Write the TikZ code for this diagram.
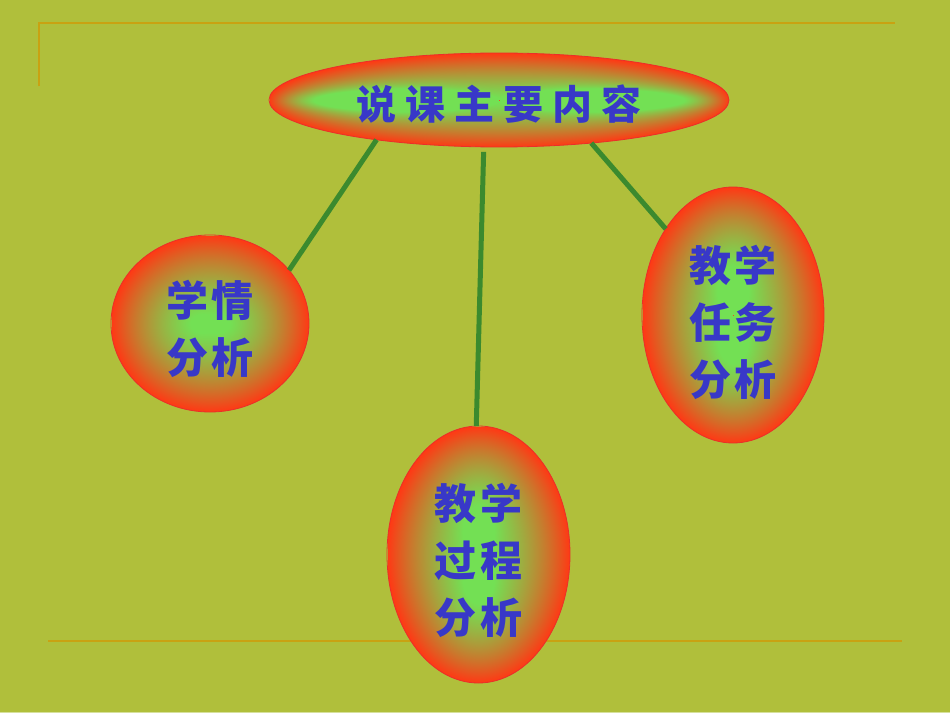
\documentclass[tikz,border=0pt]{standalone}
\usepackage{fontspec}
\newfontfamily\cjk{Noto Sans CJK SC}
\usetikzlibrary{shapes.geometric}
\definecolor{bg}{HTML}{B0BF3B}
\definecolor{framecol}{HTML}{C9A212}
\definecolor{conn}{HTML}{3B8A2E}
\definecolor{edgecol}{HTML}{E8302A}
\definecolor{txt}{HTML}{3838C8}
\definecolor{strip}{HTML}{D6E09C}
% #1 name, #2 A, #3 B, #4 k=(A/B)^2, #5 A/R
\newcommand\mkshade[5]{%
\pgfdeclarefunctionalshading{#1}{\pgfpointorigin}{\pgfpoint{2*#2bp}{2*#3bp}}{}{%
 #3 sub #3 div dup mul exch #2 sub #2 div dup mul
 2 copy add sqrt dup 1 exch sub mul 3 1 roll
 exch #4 mul add sqrt dup 0.001 lt {pop 0.001} if div #5 mul
 1 exch sub dup 0 lt {pop 0} if dup 1 gt {pop 1} if
 dup 0.4 mul 0.6 add mul
 dup 0.55 mul 0.45 add exch dup -0.66 mul 0.88 add exch -0.25 mul 0.33 add
}}
\mkshade{shTop}{230}{47}{23.95}{5.11}
\mkshade{shLeft}{99}{88.5}{1.251}{1.2375}
\mkshade{shMid}{91.5}{128.5}{0.507}{1.144}
\mkshade{shRight}{91}{128}{0.505}{1.1375}
\tikzset{
  ovalnode/.style={ellipse, draw=edgecol, line width=0.8bp, inner sep=0pt, outer sep=0pt},
  lab/.style={text=txt, font=\cjk\bfseries\fontsize{42bp}{57bp}\selectfont, align=center, inner sep=0pt},
  toplab/.style={text=txt, font=\cjk\bfseries\fontsize{40bp}{48bp}\selectfont, inner sep=0pt},
  connector/.style={conn, line width=5bp},
  framestroke/.style={framecol, line width=2.2bp}
}
\newcommand\gp{\hspace{4bp}}
\newcommand\tgp{\hspace{9bp}}
\begin{document}
\begin{tikzpicture}[x=1bp,y=-1bp]
\path[use as bounding box] (0,0) rectangle (950,713);
\fill[bg] (0,0) rectangle (950,713);
\fill[strip] (0,711.8) rectangle (950,713);
% frame lines
\coordinate (f1) at (39,86.5);
\coordinate (f2) at (39,23);
\coordinate (f3) at (895,23);
\coordinate (f4) at (48,641);
\coordinate (f5) at (902,641);
\draw[framestroke] (f1) -- (f2) -- (f3);
\draw[framestroke] (f4) -- (f5);
% ovals
\node[ovalnode, minimum width=460bp, minimum height=94bp,
  path picture={\node[inner sep=0pt] at (path picture bounding box.center) {\pgfuseshading{shTop}};}]
  (top) at (499,100) {};
\node[ovalnode, minimum width=198bp, minimum height=177bp,
  path picture={\node[inner sep=0pt] at (path picture bounding box.center) {\pgfuseshading{shLeft}};}]
  (left) at (210,323.5) {};
\node[ovalnode, minimum width=183bp, minimum height=257bp,
  path picture={\node[inner sep=0pt] at (path picture bounding box.center) {\pgfuseshading{shMid}};}]
  (mid) at (478.5,554.5) {};
\node[ovalnode, minimum width=182bp, minimum height=256bp,
  path picture={\node[inner sep=0pt] at (path picture bounding box.center) {\pgfuseshading{shRight}};}]
  (right) at (733,315) {};
% connectors
\draw[connector] (top.198.5) -- (left.34.2);
\draw[connector, shorten <=5bp] (top.252.9) -- (mid.91.6);
\draw[connector] (top.335.9) -- (right.128.3);
% labels
\node[toplab] (ttop) at ([yshift=-4bp]top.center) {说\tgp 课\tgp 主\tgp 要\tgp 内\tgp 容};
\node[lab] (tleft) at ([yshift=-5bp]left.center) {学\gp 情\\分\gp 析};
\node[lab] (tmid) at ([yshift=-6bp]mid.center) {教\gp 学\\过\gp 程\\分\gp 析};
\node[lab] (tright) at ([yshift=-7bp]right.center) {教\gp 学\\任\gp 务\\分\gp 析};
\end{tikzpicture}
\end{document}
